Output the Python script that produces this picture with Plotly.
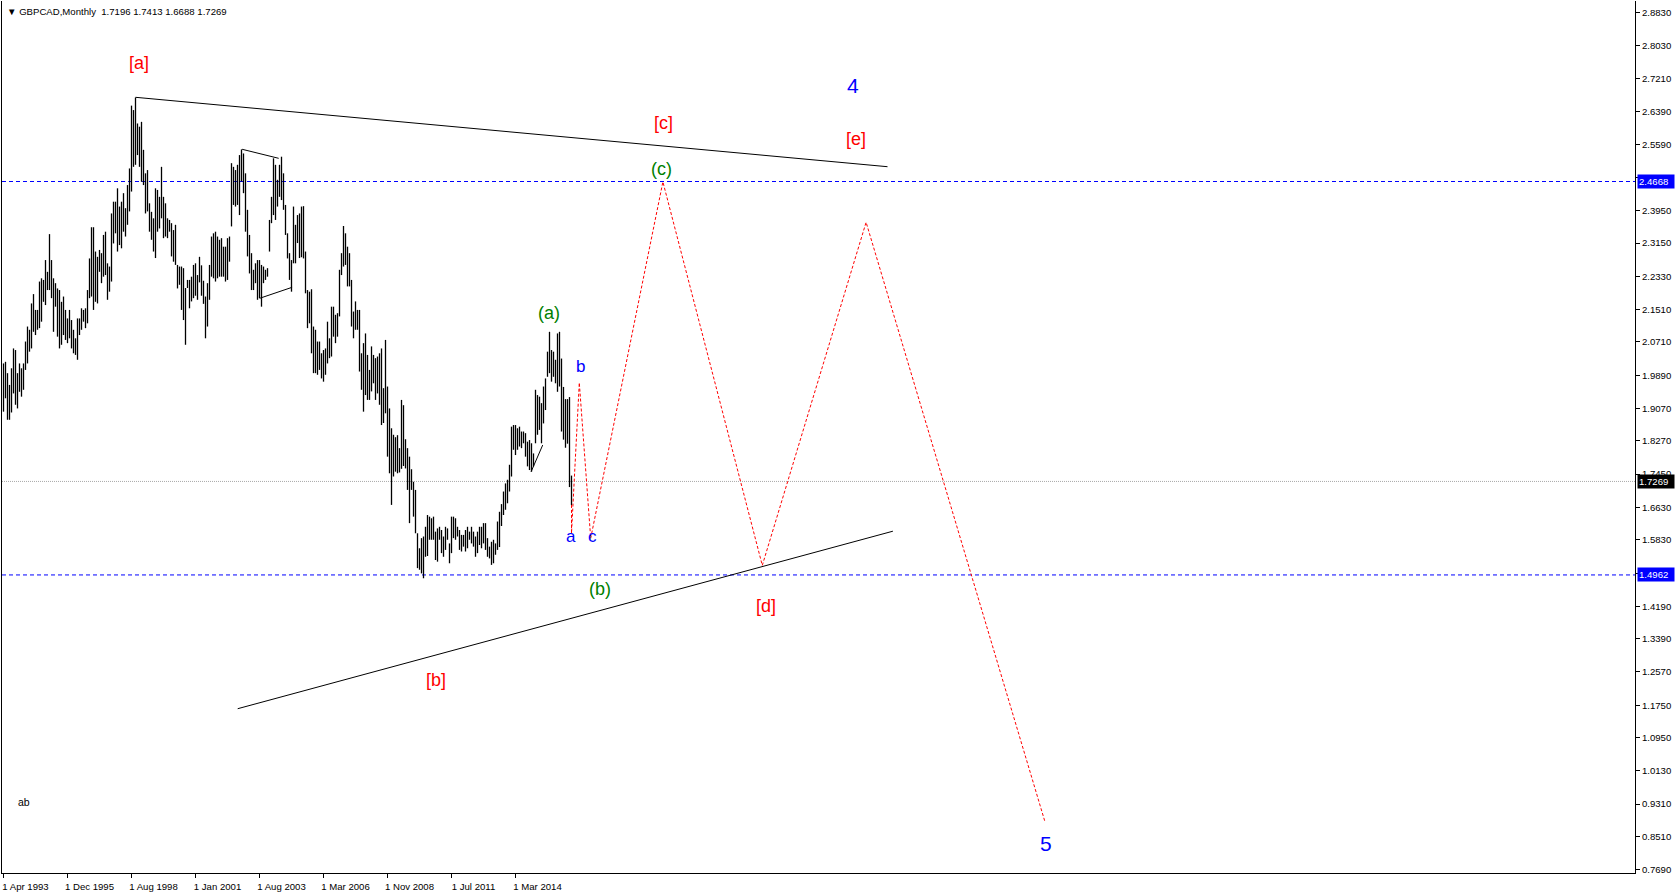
import plotly.graph_objects as go

# ---------------- data ----------------
bar_high = [
    2.018, 2.022, 1.994, 1.965, 2.006, 2.055, 2.051, 1.994, 2.018, 2.006,
    2.018, 2.072, 2.109, 2.101, 2.166, 2.189, 2.150, 2.150, 2.220, 2.228,
    2.224, 2.273, 2.244, 2.337, 2.273, 2.228, 2.216, 2.203, 2.199, 2.170,
    2.183, 2.150, 2.129, 2.150, 2.125, 2.101, 2.080, 2.129, 2.129, 2.154,
    2.150, 2.154, 2.199, 2.277, 2.354, 2.354, 2.294, 2.281, 2.298, 2.290,
    2.335, 2.343, 2.265, 2.257, 2.388, 2.417, 2.417, 2.450, 2.405, 2.417,
    2.438, 2.401, 2.458, 2.499, 2.654, 2.643, 2.674, 2.610, 2.602, 2.614,
    2.545, 2.487, 2.495, 2.413, 2.392, 2.376, 2.450, 2.446, 2.429, 2.503,
    2.429, 2.413, 2.376, 2.372, 2.364, 2.347, 2.360, 2.261, 2.257, 2.257,
    2.253, 2.204, 2.224, 2.224, 2.232, 2.261, 2.265, 2.236, 2.281, 2.260,
    2.222, 2.183, 2.216, 2.261, 2.331, 2.339, 2.343, 2.331, 2.323, 2.327,
    2.306, 2.306, 2.327, 2.331, 2.512, 2.503, 2.495, 2.508, 2.532, 2.546,
    2.536, 2.487, 2.397, 2.335, 2.290, 2.249, 2.265, 2.273, 2.273, 2.261,
    2.257, 2.249, 2.253, 2.372, 2.429, 2.524, 2.508, 2.471, 2.508, 2.528,
    2.487, 2.409, 2.339, 2.290, 2.273, 2.405, 2.360, 2.384, 2.388, 2.405,
    2.406, 2.294, 2.199, 2.195, 2.201, 2.109, 2.101, 2.072, 2.072, 2.043,
    2.051, 2.055, 2.121, 2.080, 2.158, 2.158, 2.138, 2.142, 2.249, 2.290,
    2.357, 2.339, 2.306, 2.290, 2.224, 2.146, 2.171, 2.150, 2.150, 2.043,
    2.068, 2.092, 2.039, 2.002, 2.060, 2.039, 2.031, 2.035, 2.043, 2.055,
    1.957, 2.076, 1.961, 1.907, 1.858, 1.842, 1.836, 1.841, 1.809, 1.928,
    1.915, 1.831, 1.809, 1.788, 1.757, 1.726, 1.706, 1.599, 1.562, 1.587,
    1.591, 1.615, 1.644, 1.640, 1.636, 1.640, 1.603, 1.611, 1.615, 1.607,
    1.591, 1.615, 1.611, 1.574, 1.640, 1.640, 1.636, 1.615, 1.607, 1.595,
    1.595, 1.607, 1.615, 1.603, 1.615, 1.603, 1.591, 1.603, 1.615, 1.615,
    1.624, 1.624, 1.587, 1.566, 1.578, 1.583, 1.574, 1.628, 1.652, 1.671,
    1.702, 1.722, 1.731, 1.768, 1.862, 1.866, 1.866, 1.858, 1.862, 1.850,
    1.850, 1.846, 1.825, 1.829, 1.821, 1.796, 1.953, 1.940, 1.936, 1.920,
    1.961, 1.981, 2.047, 2.096, 2.051, 2.047, 2.027, 2.092, 2.096, 2.030,
    1.960, 1.930, 1.930, 1.935, 1.7413,
]
bar_low = [
    1.899, 1.932, 1.879, 1.879, 1.897, 1.944, 1.916, 1.907, 1.948, 1.936,
    1.953, 2.002, 2.018, 2.047, 2.055, 2.096, 2.088, 2.101, 2.105, 2.121,
    2.170, 2.162, 2.199, 2.199, 2.179, 2.096, 2.158, 2.084, 2.055, 2.064,
    2.088, 2.076, 2.068, 2.080, 2.055, 2.043, 2.039, 2.027, 2.088, 2.101,
    2.121, 2.105, 2.117, 2.179, 2.183, 2.150, 2.170, 2.166, 2.244, 2.216,
    2.232, 2.236, 2.175, 2.195, 2.220, 2.314, 2.339, 2.294, 2.310, 2.302,
    2.343, 2.331, 2.360, 2.393, 2.442, 2.503, 2.508, 2.532, 2.503, 2.466,
    2.458, 2.388, 2.393, 2.343, 2.323, 2.294, 2.278, 2.343, 2.351, 2.376,
    2.327, 2.331, 2.327, 2.343, 2.282, 2.269, 2.261, 2.203, 2.212, 2.150,
    2.125, 2.064, 2.204, 2.154, 2.171, 2.179, 2.185, 2.175, 2.218, 2.185,
    2.165, 2.080, 2.109, 2.175, 2.232, 2.228, 2.220, 2.228, 2.232, 2.232,
    2.232, 2.220, 2.224, 2.269, 2.356, 2.409, 2.405, 2.409, 2.384, 2.467,
    2.438, 2.343, 2.282, 2.240, 2.199, 2.199, 2.216, 2.175, 2.179, 2.158,
    2.216, 2.224, 2.232, 2.294, 2.364, 2.384, 2.372, 2.405, 2.429, 2.421,
    2.397, 2.335, 2.277, 2.224, 2.195, 2.265, 2.265, 2.315, 2.278, 2.280,
    2.277, 2.191, 2.105, 2.117, 2.043, 1.994, 1.994, 1.990, 2.002, 1.981,
    1.973, 1.990, 2.018, 2.031, 2.035, 2.084, 2.068, 2.084, 2.134, 2.236,
    2.257, 2.261, 2.208, 2.208, 2.109, 2.080, 2.101, 2.101, 1.998, 1.953,
    1.899, 1.940, 1.928, 1.928, 1.949, 1.969, 1.928, 1.944, 1.916, 1.866,
    1.871, 1.895, 1.788, 1.747, 1.669, 1.739, 1.751, 1.747, 1.749, 1.758,
    1.765, 1.759, 1.706, 1.624, 1.706, 1.640, 1.599, 1.513, 1.509, 1.500,
    1.488, 1.541, 1.543, 1.583, 1.583, 1.583, 1.533, 1.529, 1.583, 1.550,
    1.541, 1.558, 1.583, 1.525, 1.550, 1.587, 1.583, 1.591, 1.558, 1.554,
    1.566, 1.554, 1.562, 1.583, 1.574, 1.566, 1.541, 1.550, 1.570, 1.562,
    1.574, 1.558, 1.541, 1.537, 1.521, 1.525, 1.546, 1.558, 1.565, 1.617,
    1.644, 1.657, 1.673, 1.702, 1.739, 1.805, 1.792, 1.805, 1.813, 1.809,
    1.821, 1.788, 1.764, 1.755, 1.751, 1.764, 1.821, 1.842, 1.854, 1.821,
    1.870, 1.903, 1.985, 1.994, 1.973, 1.985, 1.969, 1.948, 1.961, 1.850,
    1.830, 1.810, 1.820, 1.713, 1.6688,
]

x_tick_index = [0, 32, 64, 96, 128, 160, 192, 224, 256]
x_tick_labels = ["1 Apr 1993", "1 Dec 1995", "1 Aug 1998", "1 Jan 2001", "1 Aug 2003",
                 "1 Mar 2006", "1 Nov 2008", "1 Jul 2011", "1 Mar 2014"]

y_tick_values = [2.8830, 2.8030, 2.7210, 2.6390, 2.5590, 2.4770, 2.3950, 2.3150, 2.2330,
                 2.1510, 2.0710, 1.9890, 1.9070, 1.8270, 1.7450, 1.6630, 1.5830, 1.5010,
                 1.4190, 1.3390, 1.2570, 1.1750, 1.0950, 1.0130, 0.9310, 0.8510, 0.7690]

header_text = "▼ GBPCAD,Monthly  1.7196 1.7413 1.6688 1.7269"
last_close = 1.7269
level_high = 2.4668
level_low = 1.4962

# projected wave path (bar index, price)
wave_x = [284, 284, 287.9, 293.6, 329.7, 379.4, 431.3, 520.6]
wave_y = [1.6688, 1.599, 1.9705, 1.5866, 2.466, 1.5198, 2.3662, 0.8894]

# drawn trend lines: (x0, y0, x1, y1)
trend_lines = [
    (66.0, 2.6745, 442.0, 2.5033),
    (117.1, 1.1662, 444.7, 1.6041),
    (119.3, 2.5463, 137.6, 2.5240),
    (128.1, 2.1787, 144.3, 2.2058),
    (263.8, 1.7507, 269.6, 1.8166),
]

# wave labels: (text, x, y, colour group)
wave_labels = [
    ("[a]", 67.5, 2.7589, "red"),
    ("[b]", 216.0, 1.2375, "red"),
    ("[c]", 329.8, 2.6114, "red"),
    ("[d]", 381.0, 1.4193, "red"),
    ("[e]", 426.0, 2.5717, "red"),
    ("4", 424.9, 2.7036, "bigblue"),
    ("5", 521.0, 0.8339, "bigblue"),
    ("(a)", 272.5, 2.1419, "green"),
    ("(b)", 298.3, 1.4616, "green"),
    ("(c)", 329.2, 2.4979, "green"),
    ("a", 283.8, 1.5908, "blue"),
    ("b", 288.7, 2.0101, "blue"),
    ("c", 294.6, 1.5908, "blue"),
    ("ab", 10.2, 0.9368, "black"),
]

# ---------------- styles ----------------
ARIAL = "Liberation Sans, Arial, sans-serif"
UI = "Liberation Sans, Arial, sans-serif"
UI_SIZE = 9.6
label_styles = {
    "red": dict(color="#FF0000", size=18),
    "bigblue": dict(color="#0000FF", size=21),
    "green": dict(color="#008000", size=18),
    "blue": dict(color="#0000FF", size=17),
    "black": dict(color="#000000", size=10.5),
}

fig = go.Figure()

# price bars (high-low lines)
bx, by = [], []
for i, (h, l) in enumerate(zip(bar_high, bar_low)):
    bx += [i, i, None]
    by += [l, h, None]
fig.add_trace(go.Scatter(x=bx, y=by, mode="lines", line=dict(color="#000000", width=1.3),
                         hoverinfo="skip", showlegend=False))

# trend lines
tx, ty = [], []
for x0, y0, x1, y1 in trend_lines:
    tx += [x0, x1, None]
    ty += [y0, y1, None]
fig.add_trace(go.Scatter(x=tx, y=ty, mode="lines", line=dict(color="#000000", width=1),
                         hoverinfo="skip", showlegend=False))

# projected wave path
fig.add_trace(go.Scatter(x=wave_x, y=wave_y, mode="lines",
                         line=dict(color="#FF0000", width=1, dash="3px,2px"),
                         hoverinfo="skip", showlegend=False))

shapes = []
for lvl in (level_high, level_low):
    shapes.append(dict(type="line", xref="paper", x0=0, x1=1, yref="y", y0=lvl, y1=lvl,
                       line=dict(color="#0000FF", width=1, dash="4px,3px"), layer="below"))
shapes.append(dict(type="line", xref="paper", x0=0, x1=1, yref="y", y0=last_close, y1=last_close,
                   line=dict(color="#A8A8A8", width=1, dash="1px,1px"), layer="below"))

annotations = []
for text, x, y, grp in wave_labels:
    st = label_styles[grp]
    annotations.append(dict(text=text, x=x, y=y, xref="x", yref="y", showarrow=False,
                            xanchor="center", yanchor="middle",
                            font=dict(family=ARIAL, size=st["size"], color=st["color"])))

annotations.append(dict(text=header_text, xref="paper", yref="paper", x=0, y=1,
                        xanchor="left", yanchor="top", xshift=3, yshift=-3, showarrow=False,
                        font=dict(family=UI, size=UI_SIZE, color="#000000")))

for val, bg in ((level_high, "#0000FF"), (level_low, "#0000FF"), (last_close, "#000000")):
    annotations.append(dict(text=f"{val:.4f}", xref="paper", yref="y", x=1, y=val,
                            xanchor="left", yanchor="middle", xshift=2, showarrow=False,
                            bgcolor=bg, borderpad=1, width=34, align="left",
                            font=dict(family=UI, size=UI_SIZE, color="#FFFFFF")))

fig.update_layout(
    width=1676, height=894,
    margin=dict(l=2, r=41, t=1, b=21, pad=0),
    paper_bgcolor="#FFFFFF", plot_bgcolor="#FFFFFF",
    showlegend=False,
    hovermode=False,
    shapes=shapes,
    annotations=annotations,
    xaxis=dict(range=[-0.75, 815.75], showgrid=False, zeroline=False,
               showline=True, linecolor="#000000", linewidth=1,
               ticks="outside", ticklen=4, tickcolor="#000000", tickwidth=1,
               tickvals=x_tick_index, ticktext=x_tick_labels, ticklabelshift=22,
               ticklabeloverflow="allow",
               tickfont=dict(family=UI, size=UI_SIZE, color="#000000")),
    yaxis=dict(range=[0.7609, 2.9121], side="right", showgrid=False, zeroline=False,
               showline=True, linecolor="#000000", linewidth=1, mirror=True,
               ticks="outside", ticklen=4, tickcolor="#000000", tickwidth=1,
               tickvals=y_tick_values, ticktext=[f"{v:.4f}" for v in y_tick_values],
               ticklabeloverflow="allow",
               tickfont=dict(family=UI, size=UI_SIZE, color="#000000")),
)

fig.write_html("out.html", config={"displayModeBar": False},
               post_script="document.body.style.margin='0';document.body.style.overflow='hidden';")
